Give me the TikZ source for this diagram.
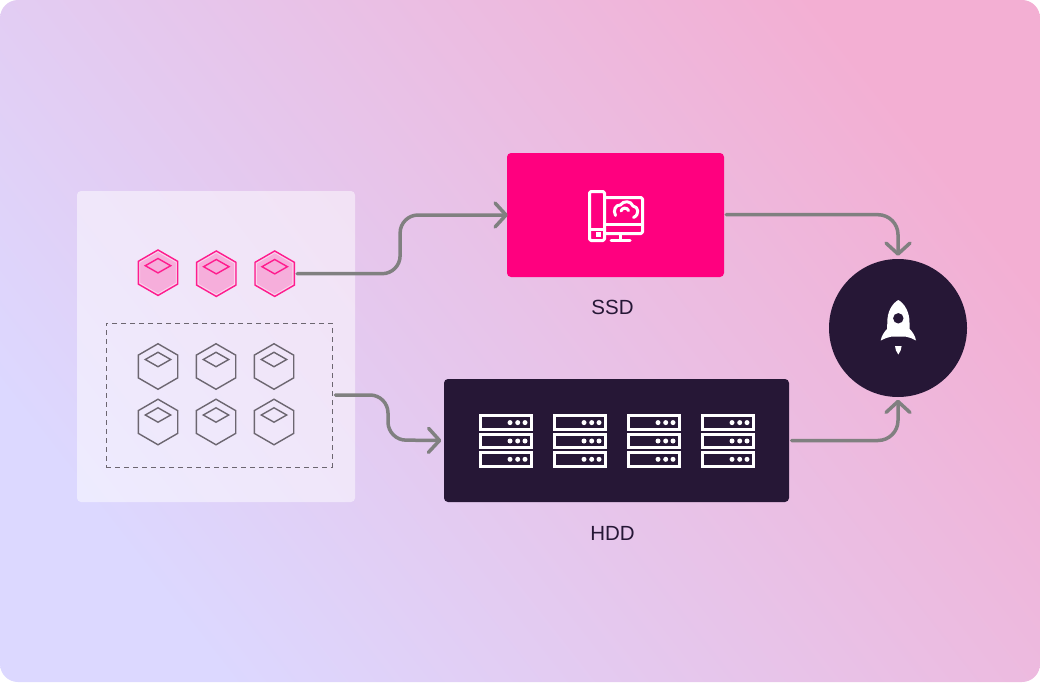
\documentclass[tikz,border=0pt]{standalone}
\usepackage{fontspec}
\setmainfont{Liberation Sans}
\usetikzlibrary{arrows.meta,shapes.geometric}
\definecolor{inkdark}{HTML}{261736}
\definecolor{hotpink}{HTML}{FF007F}
\definecolor{cubepink}{HTML}{F6AEDB}
\definecolor{cubeedge}{HTML}{FF1C8E}
\definecolor{flowgray}{HTML}{808080}
\definecolor{cubegray}{HTML}{6C6670}
\definecolor{bgA}{HTML}{DCD8FF}
\definecolor{bgB}{HTML}{E7CAEE}
\definecolor{bgC}{HTML}{F3AFD3}
\tikzset{
	hexcube/.style={regular polygon, regular polygon sides=6, shape border rotate=30, minimum size=45.5pt, inner sep=0pt, line width=1.4pt},
	hexcore/.style={regular polygon, regular polygon sides=6, shape border rotate=30, minimum size=42pt, inner sep=0pt, line width=0.8pt},
	gemcube/.style={diamond, inner sep=0pt, minimum width=26pt, minimum height=15pt, line width=1.4pt},
	flow/.style={draw=flowgray, line width=3.5pt, line cap=round, line join=round, rounded corners=18pt, -{Straight Barb[length=11pt, width=24pt, line width=3.5pt, round]}},
	serverbar/.style={draw=white, line width=3pt},
	iconline/.style={draw=white, line width=3pt, line cap=round, line join=round},
	caption/.style={text=inkdark, font=\fontsize{20.5}{24}\selectfont},
}
\begin{document}
\begin{tikzpicture}[x=1pt, y=-1pt]
	\useasboundingbox (0,0) rectangle (1040,682);
	% Background
	\shade[rounded corners=18pt, left color=bgA, middle color=bgB, right color=bgC, shading angle=128] (0,0) rectangle (1040,682);
	\node[fill=white, fill opacity=0.5, rounded corners=4pt, minimum width=278pt, minimum height=311pt, inner sep=0pt] (panel) at (216,346.5) {};
	\node[draw=cubegray, dash pattern=on 5pt off 4pt, line width=0.8pt, minimum width=226pt, minimum height=144pt, inner sep=0pt] (coldset) at (219,395) {};
	% Cubes
	\foreach \i/\x/\y in {1/158/272.7, 2/216.3/273.7, 3/274.7/273.7} {
		\node[hexcube, draw=cubeedge, fill=cubepink] (hot\i) at (\x,\y) {};
		\node[hexcore, draw=white, draw opacity=0.5] (hotcore\i) at (\x,\y) {};
		\node[gemcube, draw=cubeedge] (hotgem\i) at (\x,\y-7) {};
	}
	\foreach \i/\x/\y in {1/158/366.5, 2/216/366.5, 3/274/366.5, 4/158/422, 5/216/422, 6/274/422} {
		\node[hexcube, draw=cubegray] (cold\i) at (\x,\y) {};
		\node[gemcube, draw=cubegray] (coldgem\i) at (\x,\y-7) {};
	}
	% Stores
	\node[fill=hotpink, rounded corners=4pt, minimum width=217pt, minimum height=124pt, inner sep=0pt] (ssd) at (615.5,215) {};
	\node[fill=inkdark, rounded corners=4pt, minimum width=345pt, minimum height=123pt, inner sep=0pt] (hdd) at (616.5,440.5) {};
	\node[fill=inkdark, circle, minimum size=138pt, inner sep=0pt] (rocket) at (898,328) {};
	\node[caption] (ssdlabel) at (612.5,307) {SSD};
	\node[caption] (hddlabel) at (612.5,533) {HDD};
	% Computer icon
	\draw[iconline, rounded corners=1.5pt] (589.5,191.5) rectangle (604.5,240.5);
	\draw[iconline] (589.5,229.5) -- (604.5,229.5);
	\fill[white] (595.5,232) rectangle (600.5,237);
	\draw[iconline, rounded corners=1.5pt] (606,197.5) -- (642.5,197.5) -- (642.5,233.5) -- (606,233.5);
	\draw[iconline, line width=3.5pt] (606,224.5) -- (642,224.5);
	\draw[iconline] (620.5,234) -- (620.5,240) (611,240.5) -- (630,240.5);
	\draw[iconline] (615.5,215.5) .. controls (612.5,210) and (616,204.5) .. (620.5,205) .. controls (623,200.5) and (631,200.5) .. (633,206) .. controls (638.5,206.5) and (640,214.5) .. (633.5,217.5);
	\draw[iconline] (621,211) .. controls (622,207.5) and (627,207) .. (628.5,210.5);
	% Server racks
	\foreach \c/\x in {1/479.3, 2/553.3, 3/627.3, 4/701.3} {
		\foreach \r/\y in {1/414.3, 2/432.7, 3/451} {
			\draw[serverbar] (\x+1.5,\y+1.5) rectangle (\x+52.5,\y+15.2);
			\foreach \d in {30.7, 38.4, 45.7} {
				\fill[white] (\x+\d,\y+8.3) circle (2.5pt);
			}
		}
	}
	% Rocket icon
	\fill[white] (898.3,300) .. controls (892,303.5) and (887,312) .. (887.3,323) -- (887,329) .. controls (884,332) and (881.5,336) .. (880.7,340.5) .. controls (885,338.5) and (888,337) .. (891,336.7) -- (906,336.7) .. controls (909,337) and (912,338.5) .. (916,340.5) .. controls (915.2,336) and (912.7,332) .. (909.7,329) -- (909.5,323) .. controls (909.7,312) and (904.5,303.5) .. (898.3,300) -- cycle;
	\fill[inkdark] (898.3,318.3) circle (5.2pt);
	\fill[white] (895,346) -- (901.6,346) .. controls (901.8,349) and (900,352) .. (898.3,354.5) .. controls (896.6,352) and (894.8,349) .. (895,346) -- cycle;
	% Connectors
	\draw[flow, shorten <=2pt, shorten >=-1pt] (hot3.east) -- ++(105,0) |- (ssd.west);
	\draw[flow, shorten <=3pt, shorten >=2.5pt] (coldset.east |- 0,395) -| (388,440) -- (hdd.west);
	\draw[flow, shorten <=2pt, shorten >=3pt, rounded corners=20pt] (ssd.east |- 0,214.7) -| (rocket.north);
	\draw[flow, shorten <=2.5pt, shorten >=2.5pt, rounded corners=20pt] (hdd.east) -| (rocket.south);
\end{tikzpicture}
\end{document}
